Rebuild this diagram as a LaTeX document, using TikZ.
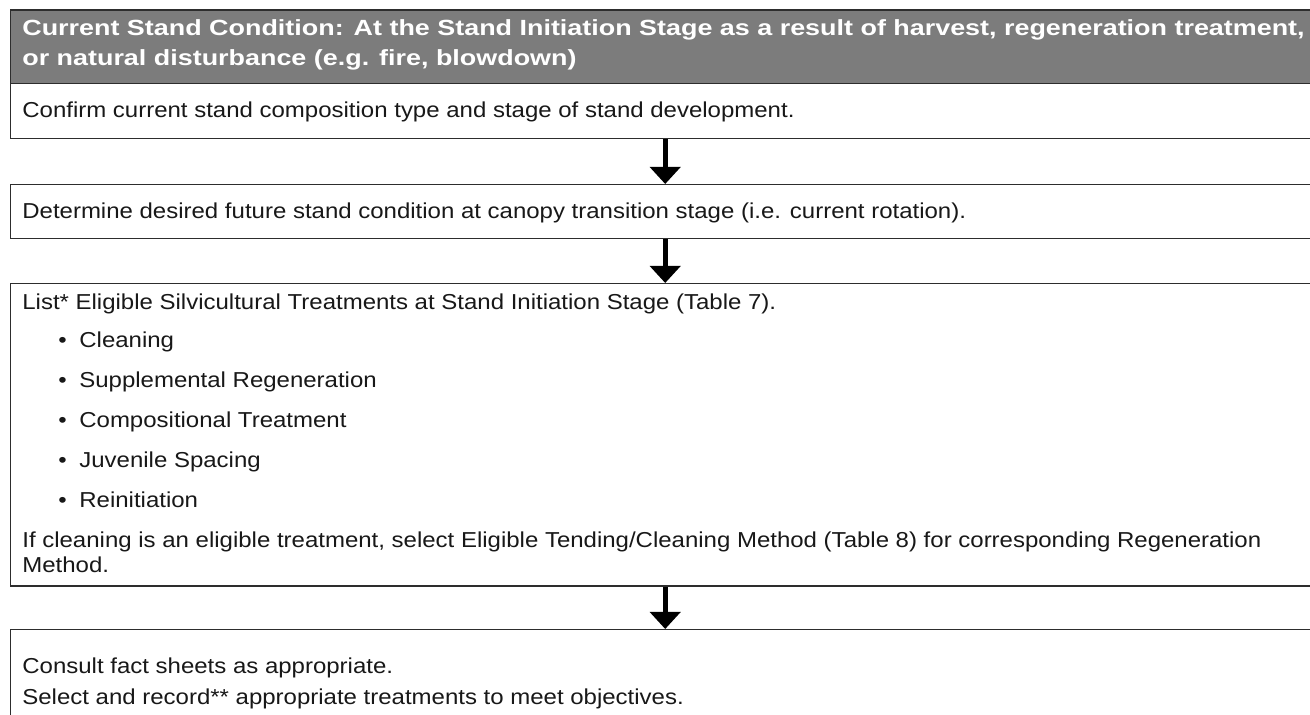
\documentclass[tikz,border=0pt]{standalone}
\usepackage{fontspec}
\setmainfont{Liberation Sans}[FakeStretch=1.11]
\newfontfamily\headfont{Liberation Sans}[FakeStretch=1.225]
\definecolor{hdgray}{RGB}{124,124,124}
\definecolor{hdline}{RGB}{45,45,45}
\definecolor{txtblack}{RGB}{24,24,24}
\usetikzlibrary{arrows.meta,positioning}

\begin{document}
\begin{tikzpicture}[
  headbox/.style={draw=hdline, line width=0.8pt, fill=hdgray, minimum width=26.2cm, anchor=north west, inner sep=0pt},
  stepbox/.style={draw=hdline, line width=0.8pt, fill=white, minimum width=26.2cm, anchor=north west, inner sep=0pt},
  headtxt/.style={anchor=base west, inner sep=0pt, text=white, font=\headfont\bfseries\fontsize{12.5}{15}\selectfont},
  txt/.style={anchor=base west, inner sep=0pt, text=txtblack, font=\fontsize{12.3}{15}\selectfont},
  flow/.style={-{Triangle[width=0.6cm,length=0.34cm]}, line width=0.1cm, black}
]
  \clip (0,0) rectangle (26.2,-14.3);

  % boxes, right edges run off the page
  \node[headbox, minimum height=1.468cm] (cond) at (0.19,-0.186) {};
  \node[stepbox, minimum height=1.106cm] (confirm) at (0.19,-1.654) {};
  \node[stepbox, minimum height=1.08cm] (desired) at (0.19,-3.68) {};
  \node[stepbox, minimum height=6.05cm] (eligible) at (0.19,-5.66) {};
  \node[stepbox, minimum height=2.2cm] (select) at (0.19,-12.58) {};

  \draw[flow] (confirm.south) -- (desired.north);
  \draw[flow] (desired.south) -- (eligible.north);
  \draw[flow] (eligible.south) -- (select.north);

  \node[headtxt] (condA) at (0.44,-0.72) {Current Stand Condition: At the Stand Initiation Stage as a result of harvest, regeneration treatment,};
  \node[headtxt] (condB) at (0.44,-1.32) {or natural disturbance (e.g. fire, blowdown)};

  \node[txt] (confirmtxt) at (0.44,-2.36) {Confirm current stand composition type and stage of stand development.};
  \node[txt] (desiredtxt) at (0.44,-4.37) {Determine desired future stand condition at canopy transition stage (i.e. current rotation).};

  \node[txt] (listtxt) at (0.44,-6.2) {List* Eligible Silvicultural Treatments at Stand Initiation Stage (Table 7).};
  \node[txt] (dotA) at (1.16,-6.96) {•};
  \node[txt] (itemA) at (1.58,-6.96) {Cleaning};
  \node[txt] (dotB) at (1.16,-7.76) {•};
  \node[txt] (itemB) at (1.58,-7.76) {Supplemental Regeneration};
  \node[txt] (dotC) at (1.16,-8.56) {•};
  \node[txt] (itemC) at (1.58,-8.56) {Compositional Treatment};
  \node[txt] (dotD) at (1.16,-9.36) {•};
  \node[txt] (itemD) at (1.58,-9.36) {Juvenile Spacing};
  \node[txt] (dotE) at (1.16,-10.16) {•};
  \node[txt] (itemE) at (1.58,-10.16) {Reinitiation};
  \node[txt] (cleanA) at (0.44,-10.96) {If cleaning is an eligible treatment, select Eligible Tending/Cleaning Method (Table 8) for corresponding Regeneration};
  \node[txt] (cleanB) at (0.44,-11.46) {Method.};

  \node[txt] (consulttxt) at (0.44,-13.48) {Consult fact sheets as appropriate.};
  \node[txt] (recordtxt) at (0.44,-14.1) {Select and record** appropriate treatments to meet objectives.};
\end{tikzpicture}
\end{document}
